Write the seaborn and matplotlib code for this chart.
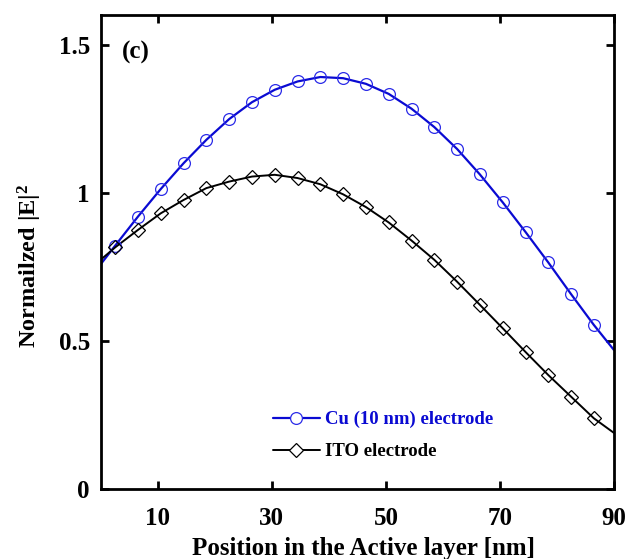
import numpy as np
import pandas as pd
import matplotlib
matplotlib.use("Agg")
import matplotlib.pyplot as plt
import seaborn as sns
from matplotlib.lines import Line2D

# data
pos_marker = [2.5, 6.5, 10.5, 14.5, 18.5, 22.5, 26.5, 30.5, 34.5, 38.5, 42.5,
              46.5, 50.5, 54.5, 58.5, 62.5, 66.5, 70.5, 74.5, 78.5, 82.5, 86.5]
cu_marker = [0.822, 0.920, 1.013, 1.100, 1.179, 1.249, 1.306, 1.348, 1.376, 1.391, 1.387,
             1.368, 1.334, 1.284, 1.222, 1.148, 1.062, 0.968, 0.868, 0.765, 0.658, 0.554]
ito_marker = [0.816, 0.875, 0.931, 0.976, 1.016, 1.038, 1.055, 1.061, 1.050, 1.029, 0.995,
              0.952, 0.900, 0.839, 0.774, 0.700, 0.622, 0.543, 0.463, 0.385, 0.312, 0.239]
# curve end points at the axis limits
pos_start, pos_end = 0.0, 90.0
cu_start, cu_end = 0.76, 0.47
ito_start, ito_end = 0.775, 0.19

pos_line = [pos_start] + pos_marker + [pos_end]
cu_line = [cu_start] + cu_marker + [cu_end]
ito_line = [ito_start] + ito_marker + [ito_end]

df_line = pd.DataFrame({"pos": pos_line, "cu": cu_line, "ito": ito_line})
df_mark = pd.DataFrame({"pos": pos_marker, "cu": cu_marker, "ito": ito_marker})

sns.set_style("ticks")
plt.rcParams['font.family'] = ['Liberation Serif', 'DejaVu Serif']
plt.rcParams['font.weight'] = 'bold'
plt.rcParams['mathtext.fontset'] = 'custom'
plt.rcParams['mathtext.rm'] = 'Liberation Serif'
plt.rcParams['mathtext.it'] = 'Liberation Serif:italic'
plt.rcParams['mathtext.bf'] = 'Liberation Serif:bold'
for key in ['text.color', 'axes.labelcolor', 'xtick.color', 'ytick.color', 'axes.edgecolor']:
    plt.rcParams[key] = 'black'

blue = "#0a0ad2"
blue_mk = "#2b2be8"

fig = plt.figure(figsize=(6.27, 5.59), dpi=100)
ax = fig.add_axes([0.161, 0.125, 0.818, 0.848])

sns.lineplot(data=df_line, x="pos", y="cu", color=blue, lw=1.6, sort=False, ax=ax)
sns.lineplot(data=df_line, x="pos", y="ito", color="black", lw=1.4, sort=False, ax=ax)
sns.lineplot(data=df_mark, x="pos", y="cu", marker="o", linestyle="", ms=8.5,
             mfc="none", mec=blue_mk, mew=0.9, ax=ax)
sns.lineplot(data=df_mark, x="pos", y="ito", marker="D", linestyle="", ms=7,
             mfc="none", mec="black", mew=0.9, ax=ax)

ax.set_xlim(0, 90)
ax.set_ylim(0, 1.6)
ax.set_xticks([10, 30, 50, 70, 90])
ax.set_yticks([0, 0.5, 1, 1.5])
ax.set_yticklabels(["0", "0.5", "1", "1.5"])
ax.tick_params(direction="in", length=6, width=2, top=True, right=True,
               labelsize=18)
ax.tick_params(axis="x", pad=13)
ax.tick_params(axis="y", pad=8)
for sp in ax.spines.values():
    sp.set_linewidth(2)
    sp.set_visible(True)

ax.set_xlabel("Position in the Active layer [nm]", fontsize=18, fontweight="bold")
ax.xaxis.set_label_coords(0.511, -0.102)
ax.set_ylabel(r"Normailzed |E|$^2$", fontsize=17.5, fontweight="bold")
ax.yaxis.set_label_coords(-0.111, 0.47)
ax.text(0.041, 0.945, "(c)", transform=ax.transAxes, fontsize=18, fontweight="bold",
        va="top", ha="left")

handles = [
    Line2D([], [], color=blue, lw=1.6, marker="o", ms=8.5, mfc="white", mec=blue_mk, mew=0.9),
    Line2D([], [], color="black", lw=1.4, marker="D", ms=7, mfc="white", mec="black", mew=0.9),
]
leg = ax.legend(handles, ["Cu (10 nm) electrode", "ITO electrode"], loc="upper left",
                bbox_to_anchor=(0.335, 0.165), frameon=False,
                handlelength=2.5, handletextpad=0.3, labelspacing=0.8,
                borderpad=0, borderaxespad=0, prop={"weight": "bold", "size": 13.5})
leg.get_texts()[0].set_color(blue)

fig.savefig("out.png", dpi=100)
